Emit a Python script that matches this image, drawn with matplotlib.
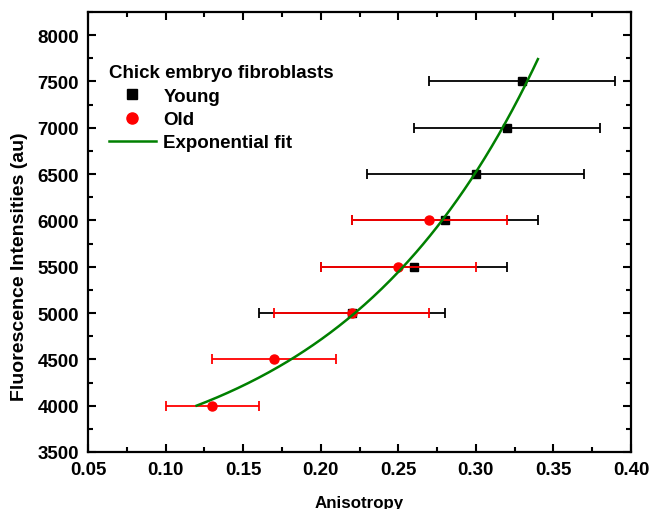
import numpy as np
import matplotlib
matplotlib.use("Agg")
import matplotlib.pyplot as plt
from matplotlib.ticker import MultipleLocator
from matplotlib.lines import Line2D

plt.rcParams['font.family'] = ['Liberation Sans', 'DejaVu Sans']
plt.rcParams['font.weight'] = 'bold'

# Young cells
young_x = [0.22, 0.26, 0.28, 0.30, 0.32, 0.33]
young_y = [5000, 5500, 6000, 6500, 7000, 7500]
young_xerr = [0.06, 0.06, 0.06, 0.07, 0.06, 0.06]

# Old cells
old_x = [0.13, 0.17, 0.22, 0.25, 0.27]
old_y = [4000, 4500, 5000, 5500, 6000]
old_xerr = [0.03, 0.04, 0.05, 0.05, 0.05]

# Exponential fit: y = y0 + A * exp(x / t)
fit_y0 = 3173.5
fit_A = 325.4
fit_t = 0.1287
fit_range = (0.12, 0.34)

FS = 13.5

fig = plt.figure(figsize=(6.51, 5.10), dpi=100)
ax = fig.add_axes([88 / 651, 1 - 453 / 510, 543 / 651, 440 / 510])

ax.errorbar(young_x, young_y, xerr=young_xerr, fmt='s', color='black',
            ms=6, elinewidth=1.3, capsize=3.5, capthick=1.3, zorder=3)
ax.errorbar(old_x, old_y, xerr=old_xerr, fmt='o', color='#ff0000',
            ms=6.5, elinewidth=1.3, capsize=3.5, capthick=1.3, zorder=4)

xf = np.linspace(fit_range[0], fit_range[1], 200)
yf = fit_y0 + fit_A * np.exp(xf / fit_t)
ax.plot(xf, yf, color='#008000', lw=1.8, zorder=5)

ax.set_xlim(0.05, 0.40)
ax.set_ylim(3500, 8250)
ax.xaxis.set_minor_locator(MultipleLocator(0.025))
ax.yaxis.set_minor_locator(MultipleLocator(250))
xt = np.arange(0.05, 0.401, 0.05)
ax.set_xticks(xt)
ax.set_xticklabels([f"{v:.2f}" for v in xt])
ax.set_yticks(np.arange(3500, 8001, 500))

ax.tick_params(which='both', direction='in', top=True, right=True, width=1.5,
               labelsize=FS)
ax.tick_params(which='major', length=6, pad=6.5)
ax.tick_params(which='minor', length=3.5)
for s in ax.spines.values():
    s.set_linewidth(1.6)

ax.set_xlabel('Anisotropy', fontsize=12.2, fontweight='bold', labelpad=12)
ax.set_ylabel('Fluorescence Intensities (au)', fontsize=14.0, fontweight='bold')
ax.yaxis.set_label_coords(-0.111, 0.423)

handles = [
    Line2D([], [], ls='none', marker='s', color='black', ms=7),
    Line2D([], [], ls='none', marker='o', color='#ff0000', ms=8),
    Line2D([], [], color='#008000', lw=1.8),
]
labels = ['Young', 'Old', 'Exponential fit']
leg = ax.legend(handles, labels, title='Chick embryo fibroblasts', loc='upper left',
                bbox_to_anchor=(0.035, 0.885), frameon=False, fontsize=FS,
                title_fontproperties={'weight': 'bold', 'size': FS},
                handlelength=2.5, handletextpad=0.4, labelspacing=0.33,
                borderpad=0.1, borderaxespad=0.0)
leg._legend_box.align = 'left'

fig.savefig('out.png', dpi=100)
